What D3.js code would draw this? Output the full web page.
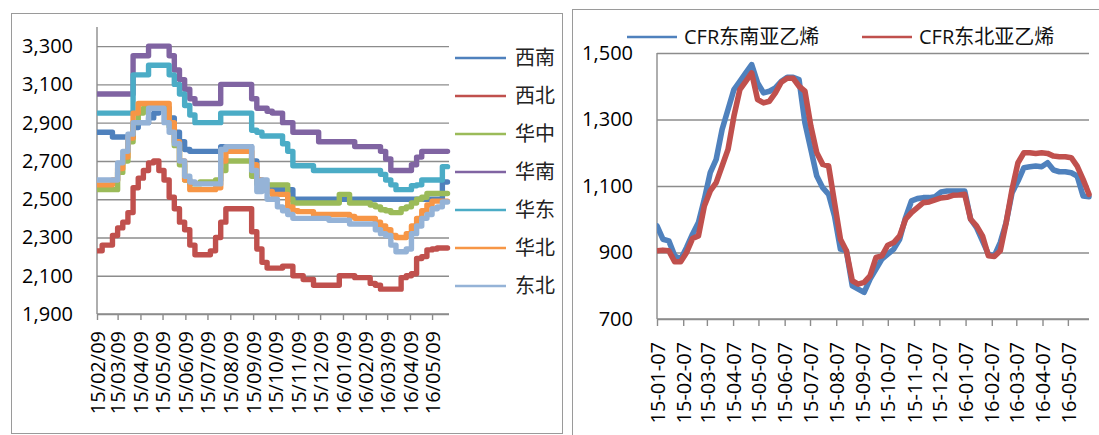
<!DOCTYPE html>
<html><head><meta charset="utf-8">
<script src="https://cdn.jsdelivr.net/npm/d3@7"></script>
<style>body{margin:0;background:#fff}svg{display:block}</style>
</head><body><svg id="c" width="1099" height="435"></svg>
<script>
// ---------- LEFT CHART DATA (weekly from 15/02/09) ----------
const leftStart = "2015-02-09";
const leftEnd = "2016-06-01";
const leftTickLabels = ["15/02/09","15/03/09","15/04/09","15/05/09","15/06/09","15/07/09","15/08/09","15/09/09","15/10/09","15/11/09","15/12/09","16/01/09","16/02/09","16/03/09","16/04/09","16/05/09"];
const leftYTicks = [1900,2100,2300,2500,2700,2900,3100,3300];
const leftYMax = 3400;
const regionNames = ["西南","西北","华中","华南","华东","华北","东北"];
const xinan  = [2850,2850,2850,2825,2825,2825,2825,2875,2900,2900,2925,2950,2975,2975,2925,2850,2800,2760,2750,2750,2750,2750,2750,2750,2775,2775,2775,2775,2775,2775,2700,2600,2550,2550,2550,2550,2550,2550,2500,2500,2500,2500,2500,2500,2500,2500,2500,2500,2500,2500,2500,2500,2500,2500,2500,2500,2500,2500,2500,2500,2500,2500,2500,2500,2500,2500,2500,2590,2590];
const xibei  = [2230,2260,2260,2310,2350,2380,2430,2560,2610,2650,2690,2700,2650,2600,2510,2450,2380,2340,2260,2210,2210,2210,2230,2300,2380,2450,2450,2450,2450,2450,2330,2240,2170,2140,2140,2140,2150,2150,2100,2100,2080,2080,2050,2050,2050,2050,2050,2100,2100,2100,2090,2090,2090,2060,2050,2030,2030,2030,2030,2090,2100,2110,2190,2200,2235,2240,2245,2245,2245];
const huazhong = [2550,2550,2550,2550,2640,2700,2800,2900,2950,2975,2975,2975,2975,2975,2880,2780,2680,2600,2580,2580,2590,2590,2590,2600,2650,2700,2700,2700,2700,2700,2620,2580,2575,2575,2575,2575,2575,2500,2480,2480,2480,2480,2480,2480,2480,2480,2480,2525,2525,2480,2480,2480,2480,2470,2460,2445,2440,2430,2430,2450,2460,2480,2500,2510,2530,2530,2530,2530,2530];
const huanan = [3050,3050,3050,3050,3050,3050,3050,3250,3250,3250,3300,3300,3300,3300,3250,3175,3125,3075,3025,3000,3000,3000,3000,3000,3100,3100,3100,3100,3100,3100,3025,2975,2975,2960,2950,2950,2900,2900,2850,2850,2850,2850,2850,2800,2800,2800,2800,2800,2800,2800,2775,2775,2775,2775,2775,2750,2710,2650,2650,2650,2650,2680,2720,2750,2750,2750,2750,2750,2750];
const huadong = [2950,2950,2950,2950,2950,2950,2950,3150,3150,3150,3200,3200,3200,3200,3150,3100,3050,2990,2940,2900,2900,2900,2900,2900,2950,2950,2950,2950,2950,2950,2860,2850,2830,2830,2830,2830,2790,2750,2675,2675,2675,2675,2650,2650,2650,2650,2650,2650,2650,2650,2650,2650,2650,2650,2650,2630,2600,2575,2550,2550,2550,2570,2575,2600,2600,2600,2600,2670,2670];
const huabei = [2575,2575,2575,2600,2660,2720,2820,2950,3000,3000,3000,3000,3000,3000,2900,2800,2700,2600,2550,2550,2550,2550,2550,2560,2700,2750,2750,2750,2750,2750,2680,2600,2560,2540,2525,2525,2525,2460,2440,2435,2435,2435,2420,2420,2420,2420,2420,2420,2420,2410,2400,2400,2400,2400,2380,2360,2340,2310,2300,2300,2320,2360,2400,2440,2470,2490,2490,2490,2490];
const dongbei = [2600,2600,2600,2600,2690,2750,2840,2900,2900,2900,2975,2975,2975,2900,2850,2790,2700,2620,2590,2580,2580,2580,2580,2580,2760,2775,2775,2775,2775,2775,2650,2540,2600,2500,2500,2460,2440,2420,2400,2400,2400,2400,2400,2400,2400,2390,2390,2390,2390,2370,2370,2370,2370,2370,2340,2320,2310,2260,2225,2225,2240,2320,2360,2400,2420,2450,2460,2485,2485];
const regionSeries = [xinan, xibei, huazhong, huanan, huadong, huabei, dongbei];

// ---------- RIGHT CHART DATA (weekly from 15-01-07) ----------
const rightStart = "2015-01-07";
const rightEnd = "2016-06-01";
const rightTickLabels = ["15-01-07","15-02-07","15-03-07","15-04-07","15-05-07","15-06-07","15-07-07","15-08-07","15-09-07","15-10-07","15-11-07","15-12-07","16-01-07","16-02-07","16-03-07","16-04-07","16-05-07"];
const rightYTicks = [700,900,1100,1300,1500];
const ethyleneNames = ["CFR东南亚乙烯","CFR东北亚乙烯"];
const cfrSEA = [980,940,935,890,880,915,955,990,1060,1140,1180,1270,1330,1390,1415,1440,1465,1410,1380,1385,1395,1415,1427,1427,1420,1290,1210,1130,1095,1075,1010,910,905,800,790,780,820,850,880,895,910,940,1005,1055,1062,1065,1065,1068,1082,1085,1085,1085,1085,1000,975,935,895,890,930,990,1080,1115,1155,1158,1160,1158,1170,1148,1143,1143,1140,1130,1070,1068];
const cfrNEA = [905,907,905,872,872,900,942,950,1040,1085,1110,1160,1210,1310,1390,1415,1440,1360,1350,1355,1380,1412,1424,1424,1400,1385,1280,1200,1165,1160,1050,940,905,815,805,810,830,885,890,922,930,950,1000,1020,1035,1050,1052,1058,1064,1066,1072,1073,1075,1000,980,950,890,888,905,990,1090,1170,1200,1200,1198,1200,1198,1190,1188,1188,1185,1160,1120,1075];

// ---------- STYLE ----------
const regionColors = ["#4F81BD","#C0504D","#9BBB59","#8064A2","#4BACC6","#F79646","#95B3D7"];
const ethColors = ["#4F81BD","#C0504D"];
const gridColor = "#8c8c8c";
const numFont = "'Open Sans', 'Liberation Sans', sans-serif";
const cjkFont = "'Noto Sans CJK SC', sans-serif";

const svg = d3.select("#c");
const iso = d3.timeParse("%Y-%m-%d");

svg.append("rect").attr("x",11.5).attr("y",13.5).attr("width",551).attr("height",420)
  .attr("fill","none").attr("stroke","#9a9a9a").attr("stroke-width",1);
svg.append("rect").attr("x",572.5).attr("y",9.5).attr("width",530).attr("height",430)
  .attr("fill","none").attr("stroke","#9a9a9a").attr("stroke-width",1);

function drawChart(o){
  const g = svg.append("g");
  const x = d3.scaleTime().domain([iso(o.start), iso(o.end)]).range([o.x0, o.x1]);
  const y = d3.scaleLinear().domain([o.yMin, o.yMax]).range([o.y1, o.y0]);
  const ya = d3.axisLeft(y).tickValues(o.yTicks).tickSize(-(o.x1-o.x0)).tickPadding(o.yPad).tickFormat(d3.format(","));
  const yg = g.append("g").attr("transform",`translate(${o.x0},0)`).call(ya);
  yg.select(".domain").remove();
  yg.selectAll(".tick line").attr("stroke",gridColor).attr("stroke-width",1.4);
  yg.selectAll(".tick text").attr("font-family",numFont).attr("font-size",o.fs).attr("fill","#000");
  g.append("line").attr("x1",o.x0).attr("x2",o.x0).attr("y1",o.y0).attr("y2",o.y1)
    .attr("stroke",gridColor).attr("stroke-width",1.4);
  const tv = o.tickLabels.map(d3.timeParse(o.tfmt));
  const xa = d3.axisBottom(x).tickValues(tv).tickSize(o.tickLen).tickFormat(d3.timeFormat(o.tfmt));
  const xg = g.append("g").attr("transform",`translate(0,${o.y1})`).call(xa);
  xg.select(".domain").attr("stroke",gridColor).attr("stroke-width",1.4).attr("d",`M${o.x0},0H${o.x1}`);
  xg.selectAll(".tick line").attr("stroke",gridColor).attr("stroke-width",1.4);
  xg.selectAll(".tick text").attr("font-family",numFont).attr("font-size",o.fs).attr("fill","#000")
    .attr("transform",`translate(0,${o.labOff}) rotate(-90)`).attr("text-anchor","end")
    .attr("x",0).attr("y",0).attr("dy","0.36em");
  const clipId = "clip"+o.x0;
  g.append("clipPath").attr("id",clipId).append("rect")
    .attr("x",o.x0).attr("y",o.y0-6).attr("width",o.x1-o.x0+4).attr("height",o.y1-o.y0+12);
  const lg = g.append("g").attr("clip-path",`url(#${clipId})`);
  o.series.forEach((vals,i)=>{
    const line = d3.line().x((d,k)=>x(d3.timeDay.offset(iso(o.start),7*k))).y(d=>y(d)).curve(o.curve);
    lg.append("path").attr("d",line(vals)).attr("fill","none").attr("stroke",o.colors[i])
      .attr("stroke-width",o.lw).attr("stroke-linejoin","round").attr("stroke-linecap","round");
  });
  return {x,y};
}

drawChart({start:leftStart,end:leftEnd,x0:97,x1:449,y0:27,y1:314,yMin:1900,yMax:leftYMax,
  yTicks:leftYTicks,yPad:24,fs:20,tickLabels:leftTickLabels,tfmt:"%y/%m/%d",tickLen:6,labOff:17,
  series:regionSeries,colors:regionColors,curve:d3.curveStepAfter,lw:5.4});

drawChart({start:rightStart,end:rightEnd,x0:657,x1:1089,y0:53,y1:319,yMin:700,yMax:1500,
  yTicks:rightYTicks,yPad:24,fs:20,tickLabels:rightTickLabels,tfmt:"%y-%m-%d",tickLen:7,labOff:23,
  series:[cfrSEA,cfrNEA],colors:ethColors,curve:d3.curveLinear,lw:5.6});

const legY = d3.scalePoint().domain(regionNames).range([58,286]);
const lgL = svg.append("g");
regionNames.forEach((n,i)=>{
  const yy = legY(n);
  lgL.append("line").attr("x1",455).attr("x2",506).attr("y1",yy).attr("y2",yy)
    .attr("stroke",regionColors[i]).attr("stroke-width",2.5);
  lgL.append("text").attr("x",515).attr("y",yy).attr("dy","0.36em").text(n)
    .attr("font-family",cjkFont).attr("font-size",20).attr("fill","#222");
});
const legRX = [627,862];
ethyleneNames.forEach((n,i)=>{
  svg.append("line").attr("x1",legRX[i]).attr("x2",legRX[i]+50).attr("y1",37).attr("y2",37)
    .attr("stroke",ethColors[i]).attr("stroke-width",2.5);
  const t = svg.append("text").attr("x",legRX[i]+57).attr("y",37).attr("dy","0.36em")
    .attr("font-size",20).attr("fill","#111");
  t.append("tspan").attr("font-family",numFont).text(n.slice(0,3));
  t.append("tspan").attr("font-family",cjkFont).text(n.slice(3));
});
</script></body></html>
